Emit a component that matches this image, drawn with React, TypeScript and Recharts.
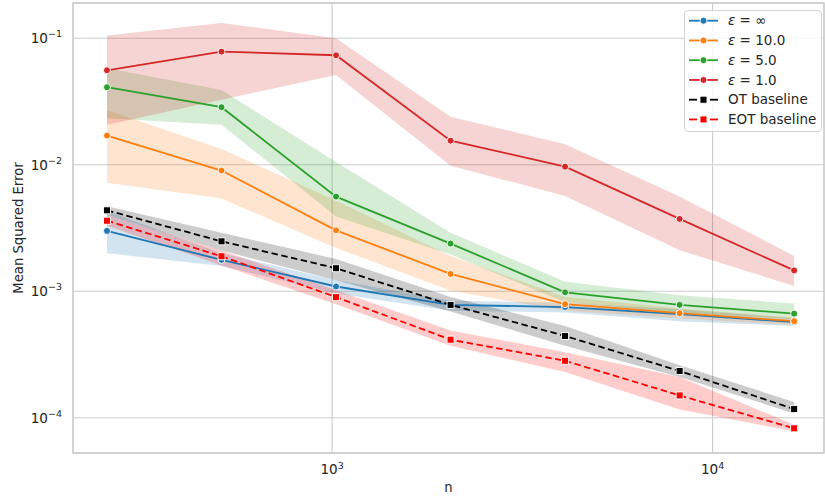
import React from 'react';
import {
  ComposedChart,
  Line,
  Area,
  XAxis,
  YAxis,
  CartesianGrid,
  ReferenceArea,
  Label,
} from 'recharts';

// ---------- data ----------
const nValues = [256, 512, 1024, 2048, 4096, 8192, 16384];

const epsInf = [0.003, 0.00177, 0.00109, 0.00078, 0.00075, 0.00066, 0.00057];
const epsInfLo = [0.002, 0.00158, 0.00096, 0.0007, 0.00068, 0.00058, 0.00053];
const epsInfHi = [0.0043, 0.002, 0.00122, 0.00084, 0.00081, 0.00072, 0.00061];

const eps10 = [0.017, 0.009, 0.00303, 0.00137, 0.00079, 0.00067, 0.00058];
const eps10Lo = [0.0072, 0.0054, 0.0022, 0.00101, 0.0007, 0.00061, 0.00054];
const eps10Hi = [0.0271, 0.0133, 0.0052, 0.0019, 0.0009, 0.00073, 0.00062];

const eps5 = [0.041, 0.0285, 0.0056, 0.00238, 0.00098, 0.00078, 0.000665];
const eps5Lo = [0.0233, 0.0207, 0.0039, 0.00195, 0.00082, 0.00068, 0.0006];
const eps5Hi = [0.058, 0.039, 0.0105, 0.0029, 0.00119, 0.00093, 0.0008];

const eps1 = [0.0558, 0.0784, 0.0734, 0.0155, 0.00966, 0.00373, 0.00146];
const eps1Lo = [0.0207, 0.0326, 0.0512, 0.00984, 0.00566, 0.00211, 0.0011];
const eps1Hi = [0.105, 0.132, 0.1, 0.024, 0.0145, 0.0056, 0.0019];

const otBase = [0.00436, 0.00248, 0.00152, 0.00078, 0.000443, 0.000234, 0.000117];
const otBaseLo = [0.004, 0.0021, 0.00122, 0.00069, 0.00037, 0.00021, 0.000108];
const otBaseHi = [0.0047, 0.0029, 0.0018, 0.0009, 0.00053, 0.00026, 0.000133];

const eotBase = [0.00361, 0.00189, 0.000898, 0.000414, 0.000282, 0.00015, 0.0000824];
const eotBaseLo = [0.0033, 0.0016, 0.00079, 0.00037, 0.00023, 0.000116, 0.000078];
const eotBaseHi = [0.004, 0.0021, 0.00102, 0.00049, 0.00033, 0.00021, 0.000088];

const xTicks = [1000, 10000];
const yTicks = [0.0001, 0.001, 0.01, 0.1];
const xDomain = [208.4, 19630];
const yDomain = [5.26e-5, 0.19];

const xLabel = 'n';
const yLabel = 'Mean Squared Error';

const seriesNames = ['ε = ∞', 'ε = 10.0', 'ε = 5.0', 'ε = 1.0', 'OT baseline', 'EOT baseline'];

// ---------- build table ----------
const data = nValues.map((n, i) => ({
  n,
  inf: epsInf[i],
  infBand: [epsInfLo[i], epsInfHi[i]],
  e10: eps10[i],
  e10Band: [eps10Lo[i], eps10Hi[i]],
  e5: eps5[i],
  e5Band: [eps5Lo[i], eps5Hi[i]],
  e1: eps1[i],
  e1Band: [eps1Lo[i], eps1Hi[i]],
  ot: otBase[i],
  otBand: [otBaseLo[i], otBaseHi[i]],
  eot: eotBase[i],
  eotBand: [eotBaseLo[i], eotBaseHi[i]],
}));

const FONT = '"DejaVu Sans", sans-serif';
const TXT = '#262626';
const GRID = '#cccccc';

const C_BLUE = '#1f77b4';
const C_ORANGE = '#ff7f0e';
const C_GREEN = '#2ca02c';
const C_RED = '#d62728';
const C_BLACK = '#000000';
const C_PURERED = '#ff0000';

const supText = (exp: number) => (exp < 0 ? '\u2212' + String(-exp) : String(exp));

const YTick = (props: any) => {
  const { y, payload } = props;
  const exp = Math.round(Math.log10(payload.value));
  return (
    <text x={73 - 11} y={y + 5} textAnchor="end" fill={TXT} fontSize={13.6} fontFamily={FONT}>
      <tspan>10</tspan>
      <tspan dy={-6} fontSize={9.5}>{supText(exp)}</tspan>
    </text>
  );
};

const XTick = (props: any) => {
  const { x, payload } = props;
  const exp = Math.round(Math.log10(payload.value));
  return (
    <text x={x} y={474} textAnchor="middle" fill={TXT} fontSize={13.6} fontFamily={FONT}>
      <tspan>10</tspan>
      <tspan dy={-5} fontSize={9.5}>{supText(exp)}</tspan>
    </text>
  );
};

const makeCircleDot = (color: string) => (props: any) => {
  const { cx, cy, index } = props;
  if (cx == null || cy == null) return <g key={index} />;
  return <circle key={index} cx={cx} cy={cy} r={3.5} fill={color} stroke="#ffffff" strokeWidth={0.9} />;
};

const makeSquareDot = (color: string) => (props: any) => {
  const { cx, cy, index } = props;
  if (cx == null || cy == null) return <g key={index} />;
  const s = 7;
  return (
    <rect
      key={index}
      x={cx - s / 2}
      y={cy - s / 2}
      width={s}
      height={s}
      fill={color}
      stroke="#ffffff"
      strokeWidth={0.9}
    />
  );
};

const YAxisLabel = (props: any) => {
  const vb = props.viewBox || { y: 3, height: 450 };
  const cy = vb.y + vb.height / 2;
  return (
    <text
      x={0}
      y={0}
      transform={`translate(${22.5}, ${cy}) rotate(-90)`}
      textAnchor="middle"
      fill={TXT}
      fontSize={13.2}
      fontFamily={FONT}
    >
      {yLabel}
    </text>
  );
};

const XAxisLabel = (props: any) => {
  const vb = props.viewBox || { x: 73, width: 751 };
  const cx = vb.x + vb.width / 2;
  return (
    <text x={cx} y={492} textAnchor="middle" fill={TXT} fontSize={13.2} fontFamily={FONT}>
      {xLabel}
    </text>
  );
};

type LegendItem = { name: string; color: string; dashed: boolean; square: boolean; italicEps: boolean };

const legendItems: LegendItem[] = [
  { name: seriesNames[0], color: C_BLUE, dashed: false, square: false, italicEps: true },
  { name: seriesNames[1], color: C_ORANGE, dashed: false, square: false, italicEps: true },
  { name: seriesNames[2], color: C_GREEN, dashed: false, square: false, italicEps: true },
  { name: seriesNames[3], color: C_RED, dashed: false, square: false, italicEps: true },
  { name: seriesNames[4], color: C_BLACK, dashed: true, square: true, italicEps: false },
  { name: seriesNames[5], color: C_PURERED, dashed: true, square: true, italicEps: false },
];

const LegendBox = () => {
  const left = 684;
  const top = 10;
  const w = 138;
  const h = 122;
  return (
    <div
      style={{
        position: 'absolute',
        left,
        top,
        width: w,
        height: h,
        boxSizing: 'border-box',
        border: '1px solid #d4d4d4',
        borderRadius: 4,
        background: 'rgba(255,255,255,0.85)',
      }}
    >
      <svg width={w} height={h} style={{ position: 'absolute', left: -1, top: -1 }}>
        {legendItems.map((it, i) => {
          const cy = 10.7 + i * 19.75;
          const x0 = 5;
          const x1 = 34;
          const mx = 19.5;
          return (
            <g key={i}>
              {it.dashed ? (
                <g>
                  <line x1={x0} y1={cy} x2={x0 + 8} y2={cy} stroke={it.color} strokeWidth={1.8} />
                  <line x1={x1 - 8} y1={cy} x2={x1} y2={cy} stroke={it.color} strokeWidth={1.8} />
                </g>
              ) : (
                <line x1={x0} y1={cy} x2={x1} y2={cy} stroke={it.color} strokeWidth={1.8} />
              )}
              {it.square ? (
                <rect x={mx - 3.5} y={cy - 3.5} width={7} height={7} fill={it.color} stroke="#fff" strokeWidth={0.9} />
              ) : (
                <circle cx={mx} cy={cy} r={3.5} fill={it.color} stroke="#fff" strokeWidth={0.9} />
              )}
              <text x={44} y={cy + 4.7} fill={TXT} fontSize={13.5} fontFamily={FONT}>
                {it.italicEps ? (
                  <>
                    <tspan fontStyle="italic">{it.name.slice(0, 1)}</tspan>
                    <tspan>{it.name.slice(1)}</tspan>
                  </>
                ) : (
                  it.name
                )}
              </text>
            </g>
          );
        })}
      </svg>
    </div>
  );
};

export default function App() {
  return (
    <div style={{ position: 'absolute', left: 0, top: 0, width: 825, height: 501, background: '#ffffff' }}>
      <ComposedChart
        width={825}
        height={501}
        data={data}
        margin={{ top: 3, right: 1, bottom: 0, left: 0 }}
      >
        <CartesianGrid stroke={GRID} strokeWidth={1.1} />
        <XAxis
          dataKey="n"
          type="number"
          scale="log"
          domain={xDomain}
          allowDataOverflow
          ticks={xTicks}
          tick={<XTick />}
          axisLine={false}
          tickLine={false}
          height={48}
        >
          <Label content={<XAxisLabel />} />
        </XAxis>
        <YAxis
          type="number"
          scale="log"
          domain={yDomain}
          allowDataOverflow
          ticks={yTicks}
          tick={<YTick />}
          axisLine={false}
          tickLine={false}
          width={73}
        >
          <Label content={<YAxisLabel />} />
        </YAxis>

        <Area dataKey="infBand" stroke="none" fill={C_BLUE} fillOpacity={0.2} isAnimationActive={false} activeDot={false} />
        <Area dataKey="e10Band" stroke="none" fill={C_ORANGE} fillOpacity={0.2} isAnimationActive={false} activeDot={false} />
        <Area dataKey="e5Band" stroke="none" fill={C_GREEN} fillOpacity={0.2} isAnimationActive={false} activeDot={false} />
        <Area dataKey="e1Band" stroke="none" fill={C_RED} fillOpacity={0.2} isAnimationActive={false} activeDot={false} />
        <Area dataKey="otBand" stroke="none" fill={C_BLACK} fillOpacity={0.2} isAnimationActive={false} activeDot={false} />
        <Area dataKey="eotBand" stroke="none" fill={C_PURERED} fillOpacity={0.2} isAnimationActive={false} activeDot={false} />

        <Line dataKey="inf" stroke={C_BLUE} strokeWidth={1.8} dot={makeCircleDot(C_BLUE)} activeDot={false} isAnimationActive={false} />
        <Line dataKey="e10" stroke={C_ORANGE} strokeWidth={1.8} dot={makeCircleDot(C_ORANGE)} activeDot={false} isAnimationActive={false} />
        <Line dataKey="e5" stroke={C_GREEN} strokeWidth={1.8} dot={makeCircleDot(C_GREEN)} activeDot={false} isAnimationActive={false} />
        <Line dataKey="e1" stroke={C_RED} strokeWidth={1.8} dot={makeCircleDot(C_RED)} activeDot={false} isAnimationActive={false} />
        <Line dataKey="ot" stroke={C_BLACK} strokeWidth={1.8} strokeDasharray="6.5 3.5" dot={makeSquareDot(C_BLACK)} activeDot={false} isAnimationActive={false} />
        <Line dataKey="eot" stroke={C_PURERED} strokeWidth={1.8} strokeDasharray="6.5 3.5" dot={makeSquareDot(C_PURERED)} activeDot={false} isAnimationActive={false} />

        <ReferenceArea
          x1={xDomain[0]}
          x2={xDomain[1]}
          y1={yDomain[0]}
          y2={yDomain[1]}
          fill="none"
          fillOpacity={0}
          stroke={GRID}
          strokeWidth={1.4}
          ifOverflow="visible"
        />
      </ComposedChart>
      <LegendBox />
    </div>
  );
}
